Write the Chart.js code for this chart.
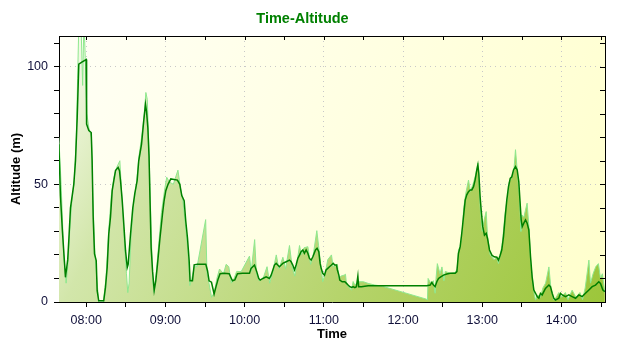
<!DOCTYPE html>
<html>
<head>
<meta charset="utf-8">
<script src="https://cdn.jsdelivr.net/npm/chart.js@4.4.0/dist/chart.umd.min.js"></script>
<style>
    html, body { margin: 0; padding: 0; background: #fff; }
</style>
</head>
<body>
<canvas id="altChart" width="640" height="350"></canvas>
<script>
// time in minutes after midnight, altitude in metres
const trackDark = [
    [459.3,67],[460.5,45],[462,30],[464.3,10.5],[466,18],[466.8,26],[468.1,40],[470.6,50],[471.9,60],[473.2,78.5],
    [474.4,101],[477,102],[480,103],[480.3,75.6],[482,72.8],[483.8,72],[484.5,60],[485.3,36],[486.3,20.4],[487.6,17.6],
    [488.3,4.8],[489.5,0.5],[493.3,0.5],[494.6,6.2],[495.9,14.7],[497.1,28.9],[498.4,36],[499.7,47.3],[500.9,51.5],[502.2,55.8],
    [504.2,57.2],[505.2,55.8],[506,51.5],[507.3,43],[508.5,33],[509.8,21.8],[511.1,14.7],[511.8,16],[513.6,29],[515.3,40],
    [516.8,46],[518.6,51.5],[519.8,60],[521.9,67],[523.6,77],[524.9,84],[525.7,81],[526.7,74],[527.6,62],[528.4,42],
    [529.2,23],[530.3,13],[531.5,5],[532.7,9],[534,16],[535.7,26],[537.8,37.4],[539,43],[540.3,47.3],[542,50],
    [544.1,52.3],[549.1,51.8],[550.9,50],[552.4,45.2],[554.2,43],[555.4,34.5],[556.7,27.4],[558,17.5],[558.7,9],[560.5,9],
    [561.8,15.8],[564.3,16],[570.6,16],[571.9,13.3],[573.1,9],[574.9,8.4],[576.9,3.4],[578.2,6.2],[579.9,9.7],[581.4,12],
    [584.5,12.2],[588.3,12],[590.8,9],[592.6,9.4],[594.6,12],[598.4,12.2],[603.7,12.2],[604.9,14.3],[607.5,15.7],[609.2,12.9],
    [610.7,10],[611.8,9.3],[613.8,10],[616.3,10.7],[618.8,10],[620.1,11.4],[621.4,13.6],[622.6,15.7],[623.9,16.4],[625.1,15.7],
    [626.4,15],[627.7,15.7],[628.9,16.4],[631.5,17.1],[634,17.8],[635.2,17.1],[636.5,15.7],[637.8,13.6],[639,15.7],[640.3,18.5],
    [641.6,19.9],[642.8,21.4],[644.1,22.1],[645.3,20.7],[646.6,22.1],[647.9,20.7],[649.1,18.5],[650.4,17.8],[651.7,19.2],[653.7,22.1],
    [654.9,22.8],[656.2,21.4],[657.2,16.4],[658,14.3],[659.2,12.2],[660.5,11.4],[661.7,13.6],[663,14.3],[664.3,15],[665.8,15.7],
    [667.1,16.4],[668.3,15.7],[669.6,15.7],[670.3,13.6],[671.4,11.4],[672.1,9.3],[673.9,8.6],[675.9,8.6],[677.2,7.9],[678.4,7.2],
    [679.7,6.5],[681,6.2],[682.2,6.5],[683.5,6.1],[684.7,6.5],[685.8,11],[686.4,6.5],[688.5,6.5],[693.6,6.9],[715,6.9],
    [738,6.9],[740.6,7.2],[741.8,8.3],[743.1,7.2],[744.3,6.5],[745.6,8.6],[746.9,10],[748.6,10.7],[750.7,11.4],[753.2,11.9],
    [755.7,12.2],[759.5,12.2],[760.8,12.9],[762,20.7],[763.3,23.5],[764.5,29.2],[765.8,36.2],[767.1,43.3],[768.3,45.5],[769.6,46.9],
    [770.9,47.6],[772.1,47.6],[773.4,49],[774.6,51.8],[775.9,56.1],[776.7,58.2],[777.4,54.7],[778.4,44.7],[779.2,39.1],[780.4,32],
    [781.7,28.4],[783,29.2],[784,27],[785.5,22.1],[787.3,19.9],[789,19.2],[791.1,19],[792.3,17.8],[793.6,19.9],[794.8,22.1],
    [796.1,27.8],[797.4,36.2],[798.6,43.3],[799.9,49],[801.2,52.5],[802.4,53.2],[803.7,56.1],[805.2,57.5],[806.5,56.1],[807.7,51.2],
    [808.5,44],[809.5,34.9],[810.3,32],[811.5,33.5],[812.8,34.9],[814,33.5],[815.3,30.6],[816.6,19.2],[817.8,10.7],[819.1,5.1],
    [820.4,3.7],[821.6,2.3],[822.9,1.6],[824.1,3.7],[825.4,3],[827.9,5.8],[830.5,7.2],[831.7,6.5],[833,3.7],[834.2,1.6],
    [835.5,0.8],[838,1.6],[839.3,3.7],[840.6,3],[843.1,2.3],[845.6,3],[848.1,2.3],[850.7,1.6],[853.2,3],[855.7,2.3],
    [858.2,3.7],[860.8,5.1],[863.3,6.5],[865.8,7.2],[868.3,8.6],[869.6,7.9],[871.4,5.1],[872.9,4.4]
];
const trackLight = [
    [459.3,70],[461,50],[463,20],[464.8,8],[466,15],[467.5,30],[469,42],[471,52],[472.5,70],[473.5,95],
    [474.5,120],[476,120],[477.3,92],[478.3,120],[479.5,100],[480.5,80],[482,74],[484,70],[485,45],[486.5,22],
    [488,10],[489.5,0],[493,0],[495,10],[497,30],[499,45],[501,53],[503,57],[505.5,60],[507,45],
    [509,25],[510.5,12],[511.5,4],[512.5,8],[514,28],[516,42],[518,50],[520,62],[522,70],[524,80],
    [525.2,89],[526.3,86],[527.5,65],[528.5,45],[529.5,25],[530.5,8],[531.5,4],[533,12],[535,25],[537,38],
    [539.5,48],[541,53],[543,51],[546,50],[549.5,56],[551.5,48],[553,44],[555,34],[557,22],[558.5,7],
    [560,10],[562,15],[564,15],[570.5,35],[571.5,12],[573,8],[575,2],[577,4],[579,10],[581,14],
    [584,12],[586,16],[588,15],[590,8],[592,10],[594,13],[597.4,12.9],[603.7,19.5],[605,13],[607.6,26.5],
    [609,12],[611,9],[614,10],[617,15],[619,8],[621,12],[624,20],[626,14],[629,19],[631,14],
    [634,24],[636,15],[638,11],[640,18],[641.6,24],[643,20],[645,23],[647.9,23.5],[650,16],[652,20],
    [654.7,30.3],[656,24],[658,14],[659.2,8.6],[661,12],[663,18],[665.8,20],[667,15],[670.3,16],[671.4,10],
    [673,11],[675.4,11.4],[676.4,11.8],[677.2,7.5],[681,5],[682.2,8.7],[683.5,7.2],[686,8.6],[690,8.6],[693.6,7.9],
    [698.6,7.2],[703.7,6.8],[737.8,1.2],[738.5,0.8],[739,10],[741,8],[743,9],[744.3,3.7],[745,10],[746,16.3],
    [748,12],[749.5,14.9],[751,9],[752,13],[755.7,12.2],[759.5,12.5],[761,14],[762,22],[763.5,24],[765,31],
    [766,40],[767.5,46],[769.6,51.8],[771,47],[773,50],[775,54],[776.7,59],[777.5,52],[778.5,40],[780,30],
    [781.5,35],[783,38.4],[784,28],[786,20],[789,18],[791,19],[792.3,16.3],[793.6,20],[795,24],[796.1,30],
    [797.4,38],[799,44],[800.5,51],[802.4,53],[804,56],[805.2,64.7],[806.5,56],[808,46],[808.9,36],[809.3,30],
    [810,37],[811.5,36],[814,42],[815.5,31],[816.6,18],[818,10],[819.5,3],[820.4,0.8],[822,3],[824,2],
    [826,6],[828,8],[830.5,14.9],[832,6],[834.2,0.8],[836,2],[838,4],[840,2],[843,4],[845,1],
    [848.1,5],[851,2],[854,4],[856,1],[858,6],[860.8,17.8],[862,8],[864,12],[866,15],[868,16.3],
    [869.6,10],[871,12],[872.9,4]
];
const hourLabels = ['08:00', '09:00', '10:00', '11:00', '12:00', '13:00', '14:00'];
const altLabels = [0, 50, 100];

const tickFont = { family: "'Liberation Sans', Arial, sans-serif", size: 12.5 };
const boldFont = { family: "'Liberation Sans', Arial, sans-serif", size: 13, weight: 'bold' };

// light yellow plot background and the frame with inward ticks on top / right
const plotFrame = {
    id: 'plotFrame',
    beforeDraw(chart) {
        const a = chart.chartArea;
        const ctx = chart.ctx;
        const g = ctx.createLinearGradient(a.left, a.top, a.right, a.bottom);
        g.addColorStop(0, '#fffff6');
        g.addColorStop(1, '#ffffcc');
        ctx.save();
        ctx.fillStyle = g;
        ctx.fillRect(a.left, a.top, a.right - a.left, a.bottom - a.top);
        ctx.restore();
    },
    afterDraw(chart) {
        const a = chart.chartArea;
        const ctx = chart.ctx;
        ctx.save();
        ctx.strokeStyle = '#000';
        ctx.lineWidth = 1;
        ctx.beginPath();
        ctx.moveTo(a.left, Math.round(a.top) + 0.5);
        ctx.lineTo(a.right, Math.round(a.top) + 0.5);
        ctx.moveTo(Math.round(a.right) + 0.5, a.top);
        ctx.lineTo(Math.round(a.right) + 0.5, a.bottom);
        chart.scales.x.ticks.forEach(t => {
            const px = Math.round(chart.scales.x.getPixelForValue(t.value)) + 0.5;
            ctx.moveTo(px, a.top);
            ctx.lineTo(px, a.top + 4);
        });
        chart.scales.y.ticks.forEach(t => {
            const py = Math.round(chart.scales.y.getPixelForValue(t.value)) + 0.5;
            ctx.moveTo(a.right, py);
            ctx.lineTo(a.right - 5, py);
        });
        ctx.stroke();
        ctx.restore();
    }
};

new Chart('altChart', {
    type: 'line',
    data: {
        datasets: [{
            label: 'Altitude',
            data: trackDark.map(p => ({x: p[0], y: p[1]})),
            borderColor: '#008000',
            borderWidth: 1.5,
            pointRadius: 0,
            fill: false,
            tension: 0
        }, {
            label: 'Raw',
            data: trackLight.map(p => ({x: p[0], y: p[1]})),
            borderColor: '#8ee88e',
            borderWidth: 1,
            pointRadius: 0,
            tension: 0,
            fill: 'origin',
            backgroundColor: function (c) {
                const a = c.chart.chartArea;
                if (!a) return '#c0dc80';
                const g = c.chart.ctx.createLinearGradient(a.left, a.top, a.right, a.bottom);
                g.addColorStop(0, '#fafdf2');
                g.addColorStop(0.2, '#d2e6aa');
                g.addColorStop(0.6, '#b6d46c');
                g.addColorStop(1, '#9cc63a');
                return g;
            }
        }]
    },
    options: {
        responsive: false,
        animation: false,
        layout: { padding: { left: 0, right: 35, top: 0, bottom: 0 } },
        plugins: {
            legend: { display: false },
            tooltip: { enabled: false },
            title: {
                display: true,
                text: 'Time-Altitude',
                color: '#008000',
                font: { family: "'Liberation Sans', Arial, sans-serif", size: 14.5, weight: 'bold' },
                padding: { top: 10, bottom: 8.6 }
            }
        },
        scales: {
            x: {
                type: 'linear',
                min: 459.4,
                max: 873,
                afterFit: s => { s.height = 48; },
                ticks: {
                    stepSize: 30,
                    includeBounds: false,
                    autoSkip: false,
                    maxRotation: 0,
                    padding: 6,
                    color: '#10103a',
                    font: tickFont,
                    callback: v => (v % 60 === 0 ? (hourLabels[(v - 480) / 60] || '') : '')
                },
                grid: {
                    color: c => (c.tick && c.tick.value % 60 === 0 ? '#c8c8c8' : 'rgba(0,0,0,0)'),
                    tickColor: '#000',
                    tickLength: 5
                },
                border: { color: '#000', width: 1, dash: [1, 4] },
                title: { display: true, text: 'Time', color: '#000', font: boldFont, padding: { top: 0, bottom: 8 } }
            },
            y: {
                min: 0,
                max: 113,
                afterFit: s => { s.width = 59; },
                ticks: {
                    stepSize: 10,
                    includeBounds: false,
                    padding: 6,
                    color: '#10103a',
                    font: tickFont,
                    callback: v => (altLabels.includes(v) ? String(v) : '')
                },
                grid: {
                    color: c => (c.tick && c.tick.value > 0 && c.tick.value % 50 === 0 ? '#c8c8c8' : 'rgba(0,0,0,0)'),
                    tickColor: '#000',
                    tickLength: 5
                },
                border: { color: '#000', width: 1, dash: [1, 4] },
                title: { display: true, text: 'Altitude (m)', color: '#000', font: boldFont, padding: { top: 9, bottom: 0 } }
            }
        }
    },
    plugins: [plotFrame]
});
</script>
</body>
</html>
